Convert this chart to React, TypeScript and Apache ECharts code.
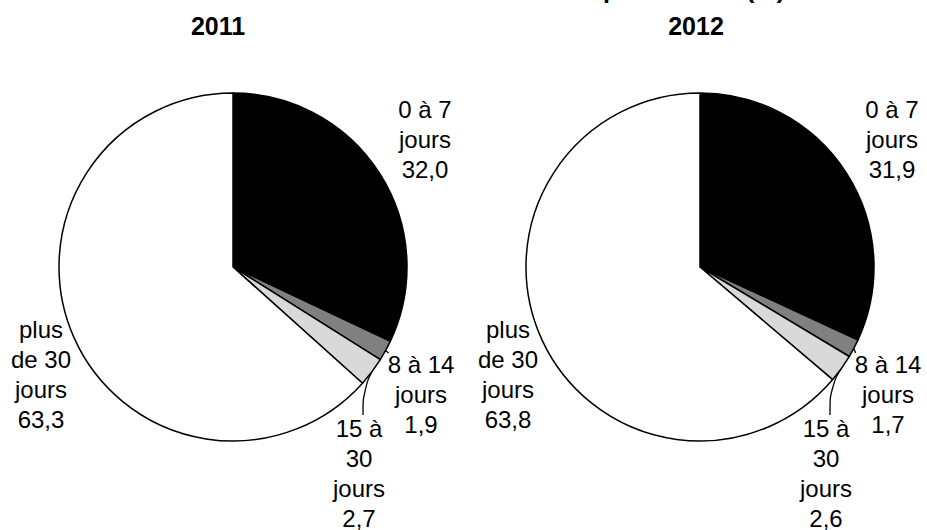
import React, { useEffect, useRef } from "react";
import * as echarts from "echarts";

// ---- Data ----
const categories = ["0 à 7 jours", "8 à 14 jours", "15 à 30 jours", "plus de 30 jours"];
const labelLines = ["0 à 7\njours", "8 à 14\njours", "15 à\n30\njours", "plus\nde 30\njours"];
const years = ["2011", "2012"];
const values2011 = [32.0, 1.9, 2.7, 63.3];
const values2012 = [31.9, 1.7, 2.6, 63.8];
const headerText = "Durée des arrêts de travail par tranche (%)";

const FONT = '"Liberation Sans", Arial, Helvetica, sans-serif';
const sliceColors = ["#000000", "#808080", "#d9d9d9", "#ffffff"];
const centers: [number, number][] = [
  [233, 267],
  [700, 267],
];
// label centre offsets relative to pie centre
const labelOffsets: [number, number][] = [
  [192, -128],
  [188, 127],
  [126, 206],
  [-192, 107],
];

const fmt = (v: number) => v.toFixed(1).replace(".", ",");

export default function App() {
  const ref = useRef<HTMLDivElement>(null);
  useEffect(() => {
    document.body.style.margin = "0";
    if (!ref.current) return;
    const chart = echarts.init(ref.current, undefined, { renderer: "svg" });
    const allValues = [values2011, values2012];
    const series = allValues.map((vals, si) => ({
      type: "pie",
      center: centers[si],
      radius: 174,
      startAngle: 90,
      clockwise: true,
      avoidLabelOverlap: false,
      silent: true,
      label: {
        show: true,
        position: "outside",
        color: "#000",
        fontFamily: FONT,
        fontSize: 24,
        lineHeight: 30,
        align: "center",
        formatter: (p: any) => `${labelLines[p.dataIndex]}\n${fmt(p.value)}`,
      },
      labelLine: {
        show: true,
        length: 8,
        length2: 6,
        smooth: 0.5,
        lineStyle: { color: "#000", width: 1.3 },
      },
      labelLayout: (params: any) => {
        const c = centers[params.seriesIndex];
        const o = labelOffsets[params.dataIndex];
        const x = c[0] + o[0];
        const y = c[1] + o[1];
        const res: any = { x, y, align: "center", verticalAlign: "middle" };
        const pts = params.labelLinePoints;
        if (pts && pts.length) {
          const edge = pts[0];
          const w = params.labelRect.width;
          const h = params.labelRect.height;
          if (params.dataIndex === 1) {
            res.labelLinePoints = [
              [edge[0], edge[1]],
              [(edge[0] + x - w / 2 + 1) / 2, (edge[1] + y - h / 2 + 4) / 2],
              [x - w / 2 + 1, y - h / 2 + 4],
            ];
          } else if (params.dataIndex === 2) {
            res.labelLinePoints = [
              [edge[0], edge[1]],
              [x + 4, edge[1] + 18],
              [x + 4, y - h / 2 + 2],
            ];
          }
        }
        return res;
      },
      itemStyle: { borderColor: "#000", borderWidth: 1.5 },
      data: vals.map((v, i) => ({
        name: categories[i],
        value: v,
        itemStyle: { color: sliceColors[i] },
        labelLine: { show: i === 1 || i === 2 },
      })),
    }));
    chart.setOption({
      animation: false,
      backgroundColor: "#ffffff",
      graphic: [
        {
          type: "text",
          x: 785,
          y: -11,
          style: {
            text: headerText,
            font: `bold 25px ${FONT}`,
            fill: "#000",
            textAlign: "right",
            textVerticalAlign: "middle",
            align: "right",
            verticalAlign: "middle",
          },
        },
        ...years.map((y, i) => ({
          type: "text",
          x: [218, 696][i],
          y: 26,
          style: {
            text: y,
            font: `bold 25px ${FONT}`,
            fill: "#000",
            textAlign: "center",
            textVerticalAlign: "middle",
            align: "center",
            verticalAlign: "middle",
          },
        })),
      ],
      series,
    });
    return () => chart.dispose();
  }, []);
  return <div ref={ref} style={{ width: 927, height: 530 }} />;
}
